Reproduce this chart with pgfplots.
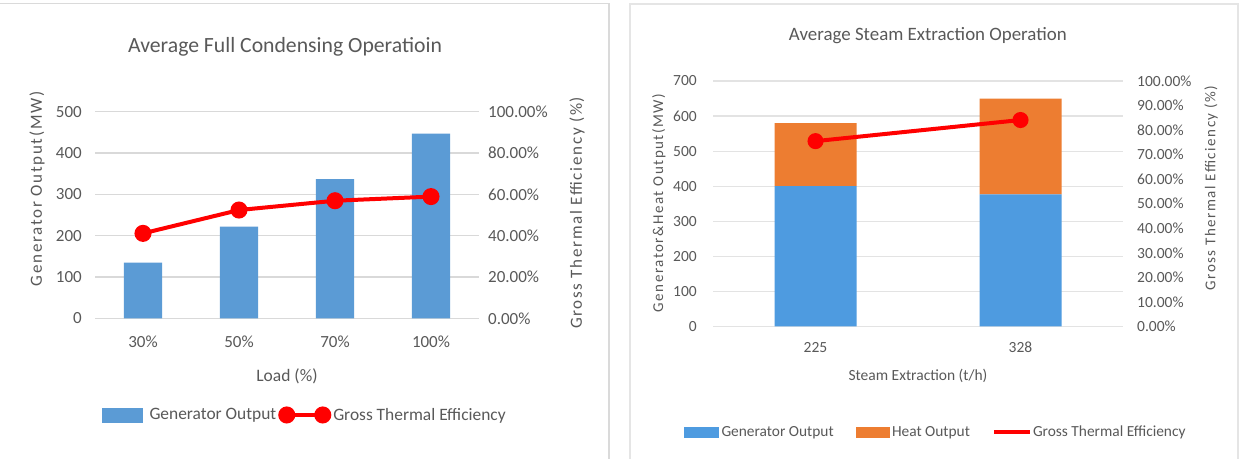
\documentclass[border=0pt]{standalone}
\usepackage{pgfplots}
\pgfplotsset{compat=1.18}
\usepackage{fontspec}
\setmainfont{Carlito}
\newfontfamily\spaced[LetterSpace=10]{Carlito}

\definecolor{txt}{HTML}{595959}
\definecolor{gridc}{HTML}{D9D9D9}
\definecolor{gridr}{HTML}{E3E3E3}
\definecolor{genblue}{HTML}{5B9BD5}
\definecolor{genblueR}{HTML}{4E9BE0}
\definecolor{heatorange}{HTML}{ED7D31}
\definecolor{effred}{HTML}{FF0000}
\definecolor{framec}{HTML}{DADADA}

\newcommand\fs[1]{\fontsize{#1bp}{#1bp}\selectfont}

\pgfplotsset{
  chartbase/.style={
    scale only axis,
    anchor=south west,
    axis line style={draw=none},
    tick style={draw=none},
    /pgf/number format/assume math mode=true,
    tick label style={inner sep=0pt, text=txt},
    legend cell align=left,
  },
}

% data: full condensing operation
\pgfplotstableread{
x  gen    eff
0  135    41.1
1  222    52.4
2  337    56.9
3  447    58.9
}\condensing

% data: steam extraction operation
\pgfplotstableread{
x  gen   heat  eff
0  400   180   75.5
1  377   273   84.1
}\extraction

\begin{document}
\begin{tikzpicture}[x=1bp,y=1bp]
\path[use as bounding box] (0,0) rectangle (1246,459);
\fill[white] (0,0) rectangle (1246,459);

% panel frames
\draw[framec, line width=1.2bp] (0,455.5) -- (609,455.5) -- (609,0);
\draw[framec!70, line width=2.5bp] (630,0) -- (630,455) -- (1238,455) -- (1238,0);

% ---------------- left chart: bars ----------------
\begin{axis}[chartbase,
  at={(95bp,140.7bp)}, width=384bp, height=206.6bp,
  xmin=-0.5, xmax=3.5, ymin=0, ymax=500,
  xtick={0,1,2,3}, xticklabels={30\%,50\%,70\%,100\%},
  ytick={0,100,200,300,400,500},
  ymajorgrids, major grid style={gridc, line width=1.5bp},
  tick label style={font=\fs{17}},
  yticklabel style={anchor=east, xshift=-13bp},
  xticklabel style={anchor=base, yshift=-29bp},
  title={Average Full Condensing Operatioin},
  title style={at={(axis description cs:0.495,1.284)}, anchor=center, font=\fs{21.7}, text=txt},
  xlabel={Load (\%)},
  xlabel style={at={(axis description cs:0.5,-0.279)}, anchor=center, font=\fs{17.5}, text=txt},
  ylabel={Generator Output(MW)},
  ylabel style={at={(axis description cs:-0.151,0.626)}, anchor=center, font=\spaced\fs{17}, text=txt},
]
\addplot[ybar, bar width=38.4bp, fill=genblue, draw=none] table[x=x, y=gen] {\condensing};
\end{axis}

% ---------------- left chart: efficiency ----------------
\begin{axis}[chartbase,
  at={(95bp,140.7bp)}, width=384bp, height=206.6bp,
  xmin=-0.5, xmax=3.5, ymin=0, ymax=100,
  xtick=\empty,
  ytick={0,20,40,60,80,100},
  yticklabels={0.00\%,20.00\%,40.00\%,60.00\%,80.00\%,100.00\%},
  yticklabel pos=right,
  tick label style={font=\fs{17}},
  yticklabel style={anchor=west, xshift=9bp},
  ylabel={Gross Thermal Efficiency (\%)},
  ylabel style={at={(axis description cs:1.255,0.51)}, anchor=center, font=\spaced\fs{17}, text=txt},
  legend columns=-1,
  legend style={at={(axis description cs:0.018,-0.468)}, anchor=west, draw=none, fill=none,
    inner sep=0pt, font=\fs{17.4},
    nodes={inner sep=0pt, text=txt},
    /tikz/every even column/.append style={column sep=2bp}},
]
\addlegendimage{legend image code/.code={
  \fill[genblue] (0bp,-7bp) rectangle (40bp,7bp); \path (47bp,0bp);}}
\addlegendentry{Generator Output}
\addplot[effred, line width=4bp, mark=*, mark size=6.5bp, mark options={solid, fill=effred, draw=none},
  legend image code/.code={
    \draw[effred, line width=4bp] (6.5bp,0bp) -- (42.5bp,0bp);
    \fill[effred] (6.5bp,0bp) circle (6.5bp) (42.5bp,0bp) circle (6.5bp);
    \path (0bp,0bp) (51bp,0bp);}]
  table[x=x, y=eff] {\condensing};
\addlegendentry{Gross Thermal Efficiency}
\end{axis}

% ---------------- right chart: stacked bars ----------------
\begin{axis}[chartbase,
  at={(713bp,132.5bp)}, width=410bp, height=245.5bp,
  xmin=-0.5, xmax=1.5, ymin=0, ymax=700,
  ybar stacked, bar width=82bp,
  xtick={0,1}, xticklabels={225,328},
  ytick={0,100,200,300,400,500,600,700},
  ymajorgrids, major grid style={gridr, line width=1.2bp},
  tick label style={font=\fs{15.5}},
  yticklabel style={anchor=east, xshift=-16bp},
  xticklabel style={anchor=base, yshift=-26.5bp},
  title={Average Steam Extraction Operation},
  title style={at={(axis description cs:0.524,1.159)}, anchor=center, font=\fs{18.9}, text=txt},
  xlabel={Steam Extraction (t/h)},
  xlabel style={at={(axis description cs:0.5,-0.202)}, anchor=center, font=\fs{15.5}, text=txt},
  ylabel={Generator\&Heat Output(MW)},
  ylabel style={at={(axis description cs:-0.132,0.503)}, anchor=center, font=\spaced\fs{15}, text=txt},
]
\addplot[fill=genblueR, draw=none] table[x=x, y=gen] {\extraction};
\addplot[fill=heatorange, draw=none] table[x=x, y=heat] {\extraction};
\end{axis}

% ---------------- right chart: efficiency ----------------
\begin{axis}[chartbase,
  at={(713bp,132.5bp)}, width=410bp, height=245.5bp,
  xmin=-0.5, xmax=1.5, ymin=0, ymax=100,
  xtick=\empty,
  ytick={0,10,20,30,40,50,60,70,80,90,100},
  yticklabels={0.00\%,10.00\%,20.00\%,30.00\%,40.00\%,50.00\%,60.00\%,70.00\%,80.00\%,90.00\%,100.00\%},
  yticklabel pos=right,
  tick label style={font=\fs{15.5}},
  yticklabel style={anchor=west, xshift=14bp},
  ylabel={Gross Thermal Efficiency (\%)},
  ylabel style={at={(axis description cs:1.215,0.564)}, anchor=center, font=\spaced\fs{15}, text=txt},
  legend columns=-1,
  legend style={at={(axis description cs:-0.071,-0.43)}, anchor=west, draw=none, fill=none,
    inner sep=0pt, font=\fs{15.4},
    nodes={inner sep=0pt, text=txt},
    /tikz/every even column/.append style={column sep=22bp}},
]
\addlegendimage{legend image code/.code={
  \fill[genblueR] (0bp,-5bp) rectangle (34bp,5bp); \path (37bp,0bp);}}
\addlegendentry{Generator Output}
\addlegendimage{legend image code/.code={
  \fill[heatorange] (0bp,-5bp) rectangle (33bp,5bp); \path (36bp,0bp);}}
\addlegendentry{Heat Output}
\addplot[effred, line width=4bp, mark=*, mark size=6bp, mark options={solid, fill=effred, draw=none},
  legend image code/.code={
    \draw[effred, line width=4bp] (0bp,0bp) -- (36bp,0bp);
    \path (37bp,0bp);}]
  table[x=x, y=eff] {\extraction};
\addlegendentry{Gross Thermal Efficiency}
\end{axis}
\end{tikzpicture}
\end{document}
